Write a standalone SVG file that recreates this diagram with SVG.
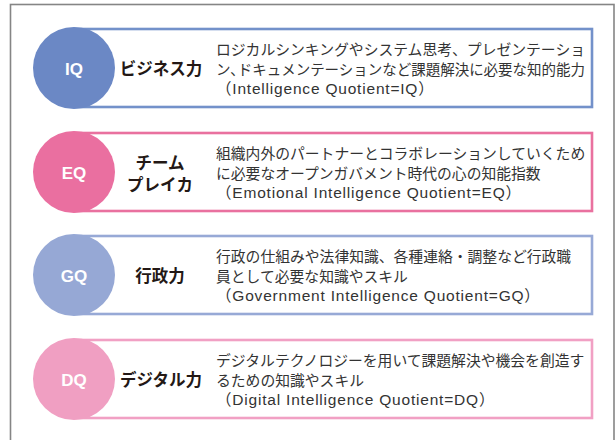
<svg xmlns="http://www.w3.org/2000/svg" width="616" height="440" viewBox="0 0 616 440">
<style>
.frame{fill:#fff;stroke:#858585;stroke-width:1.6}
.box{fill:#fff;stroke-width:2.6}
.abbr{font-family:"Liberation Sans","Noto Sans",sans-serif;font-weight:bold;font-size:17px;fill:#fff;text-anchor:middle;dominant-baseline:central}
.lbl{font-family:"Noto Sans CJK JP",sans-serif;font-weight:bold;font-size:16.5px;fill:#231815;text-anchor:middle;dominant-baseline:central}
.desc{font-family:"Noto Sans CJK JP",sans-serif;font-size:14.8px;fill:#333;dominant-baseline:central}
.lat{font-family:"Liberation Sans","Noto Sans CJK JP",sans-serif;font-size:15.5px;letter-spacing:0.8px;fill:#333;dominant-baseline:central}
</style>
<rect width="616" height="440" fill="#fff"/>
<rect class="frame" x="10.5" y="4.5" width="603.5" height="445"/>
<g id="connectors"/>
<g id="iq">
<rect class="box" x="74" y="29" width="518" height="78" stroke="#7391ca"/>
<circle cx="74" cy="68" r="41" fill="#6b88c5"/>
<text class="abbr" x="74" y="69">IQ</text>
<text class="lbl" x="161" y="68">ビジネス力</text>
<text class="desc" x="216" y="48" textLength="369" lengthAdjust="spacingAndGlyphs">ロジカルシンキングやシステム思考、プレゼンテーショ</text>
<text class="desc" x="216" y="68" textLength="369" lengthAdjust="spacingAndGlyphs">ン､ドキュメンテーションなど課題解決に必要な知的能力</text>
<text class="lat" x="216" y="88">（Intelligence Quotient=IQ）</text>
</g>
<g id="eq">
<rect class="box" x="74" y="133" width="518" height="78" stroke="#e9719f"/>
<circle cx="74" cy="172" r="41" fill="#ea6fa0"/>
<text class="abbr" x="74" y="173">EQ</text>
<text class="lbl" x="160" y="162">チーム</text>
<text class="lbl" x="160" y="184">プレイカ</text>
<text class="desc" x="216" y="152">組織内外のパートナーとコラボレーションしていくため</text>
<text class="desc" x="216" y="172">に必要なオープンガバメント時代の心の知能指数</text>
<text class="lat" x="216" y="192">（Emotional Intelligence Quotient=EQ）</text>
</g>
<g id="gq">
<rect class="box" x="74" y="236" width="518" height="78" stroke="#97a9d6"/>
<circle cx="74" cy="275" r="41" fill="#96a8d5"/>
<text class="abbr" x="74" y="276">GQ</text>
<text class="lbl" x="160" y="275">行政力</text>
<text class="desc" x="216" y="255">行政の仕組みや法律知識、各種連絡・調整など行政職</text>
<text class="desc" x="216" y="275">員として必要な知識やスキル</text>
<text class="lat" x="216" y="295">（Government Intelligence Quotient=GQ）</text>
</g>
<g id="dq">
<rect class="box" x="74" y="340" width="518" height="78" stroke="#f1a0c4"/>
<circle cx="74" cy="379" r="41" fill="#f09fc2"/>
<text class="abbr" x="74" y="380">DQ</text>
<text class="lbl" x="161" y="379">デジタル力</text>
<text class="desc" x="216" y="359">デジタルテクノロジーを用いて課題解決や機会を創造す</text>
<text class="desc" x="216" y="379">るための知識やスキル</text>
<text class="lat" x="216" y="399">（Digital Intelligence Quotient=DQ）</text>
</g>
</svg>
